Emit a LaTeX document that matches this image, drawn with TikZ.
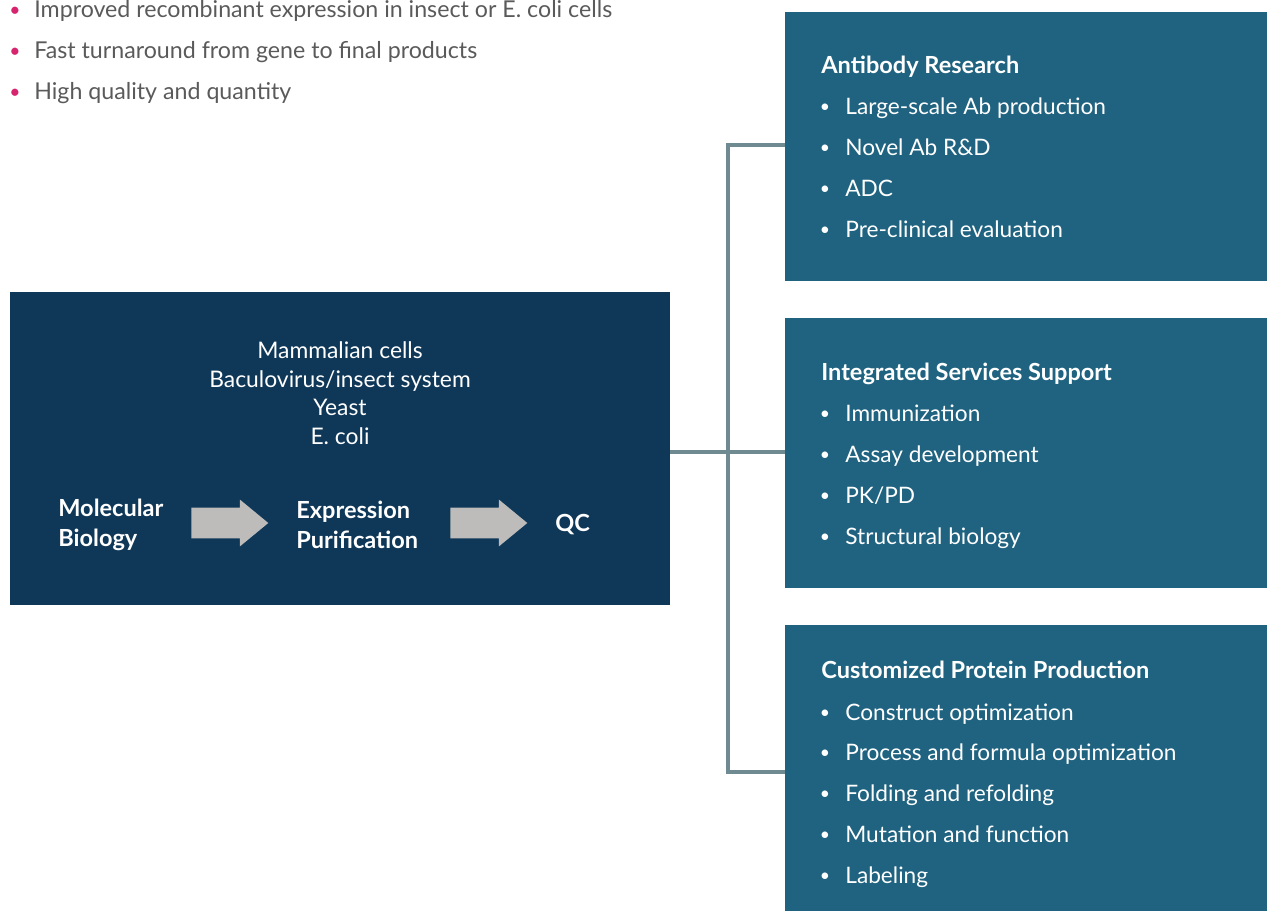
\documentclass[tikz,border=0pt]{standalone}
\usepackage{fontspec}
\setmainfont{Lato}
\usetikzlibrary{positioning,shapes.arrows}

\definecolor{corenavy}{HTML}{0E3758}
\definecolor{panelblue}{HTML}{1F6380}
\definecolor{linkgray}{HTML}{6F8A91}
\definecolor{arrowgray}{HTML}{BDBCBA}
\definecolor{dotpink}{HTML}{D6246E}
\definecolor{textgray}{HTML}{5A5A5A}

\tikzset{
  panel/.style={fill=panelblue, inner sep=0, minimum width=9.64cm},
  item/.style={anchor=west, inner sep=0, text=white, font=\fontsize{12.9}{15}\selectfont,
    text height=1.5ex, text depth=.3ex},
  dot/.style={anchor=center, inner sep=0, text=white, font=\fontsize{10}{12}\selectfont},
  head/.style={item, font=\fontsize{13.4}{15}\selectfont\bfseries},
  step pair/.style={anchor=west, inner sep=0, text=white, align=left,
    font=\fontsize{13.4}{17}\selectfont\bfseries},
  link/.style={linkgray, line width=2.2pt},
  flow/.style={single arrow, fill=arrowgray, draw=none, inner sep=0.3cm, minimum height=1.54cm,
    single arrow head extend=0.16cm, single arrow tip angle=79}
}

\begin{document}
\begin{tikzpicture}[x=0.02cm,y=-0.02cm]
      \useasboundingbox (0,0) rectangle (1267,911);
      % top bullets
      \foreach \t [count=\i] in {Improved recombinant expression in insect or E. coli cells,
          Fast turnaround from gene to final products, High quality and quantity}
      {
        \node[dot, text=dotpink, font=\fontsize{11}{12}\selectfont] (dot-\i) at (15,{12+41*(\i-1)}) {•};
        \node[item, text=textgray, font=\fontsize{13.2}{15}\selectfont] (top-\i) at (34,{12+41*(\i-1)}) {\t};
      }
      % core box
      \node[fill=corenavy, inner sep=0, minimum width=13.2cm, minimum height=6.26cm] (core) at (340,448.5) {};
      \node[align=center, text=white, inner sep=0, font=\fontsize{13}{16.3}\selectfont] (hosts) at (340,393)
        {Mammalian cells\\Baculovirus/insect system\\Yeast\\E. coli};
      \node[step pair] (molbio) at (58,525) {Molecular\\Biology};
      \node[flow] (arr-1) at (220.5,523) {};
      \node[step pair] (expr) at (296,525) {Expression\\Purification};
      \node[flow] (arr-2) at (479.5,523) {};
      \node[head] (qc) at (555,526) {QC};
      % right panels
      \node[panel, minimum height=5.38cm] (ab) at (1026,146.5) {};
      \node[panel, minimum height=5.40cm] (int) at (1026,453) {};
      \node[panel, minimum height=5.72cm] (cust) at (1026,768) {};
      \node[head] (ab-h) at (821,68) {Antibody Research};
      \foreach \t [count=\i] in {Large-scale Ab production, Novel Ab R\&D, ADC, Pre-clinical evaluation}
      {
        \node[dot] (ab-b\i) at (825,{67+41*\i}) {•};
        \node[item] (ab-\i) at (845,{68+41*\i}) {\t};
      }
      \node[head] (int-h) at (821,375) {Integrated Services Support};
      \foreach \t [count=\i] in {Immunization, Assay development, PK/PD, Structural biology}
      {
        \node[dot] (int-b\i) at (825,{374+41*\i}) {•};
        \node[item] (int-\i) at (845,{375+41*\i}) {\t};
      }
      \node[head] (cust-h) at (821,673) {Customized Protein Production};
      \foreach \t [count=\i] in {Construct optimization, Process and formula optimization,
          Folding and refolding, Mutation and function, Labeling}
      {
        \node[dot] (cust-b\i) at (825,{673+40.8*\i}) {•};
        \node[item] (cust-\i) at (845,{674+40.8*\i}) {\t};
      }
      % connectors
      \coordinate (hub) at (728,452);
      \draw[link] (core.east |- hub) -- (int.west |- hub);
      \draw[link] (ab.west |- 0,145) -| (hub) |- (cust.west |- 0,772);
\end{tikzpicture}
\end{document}
